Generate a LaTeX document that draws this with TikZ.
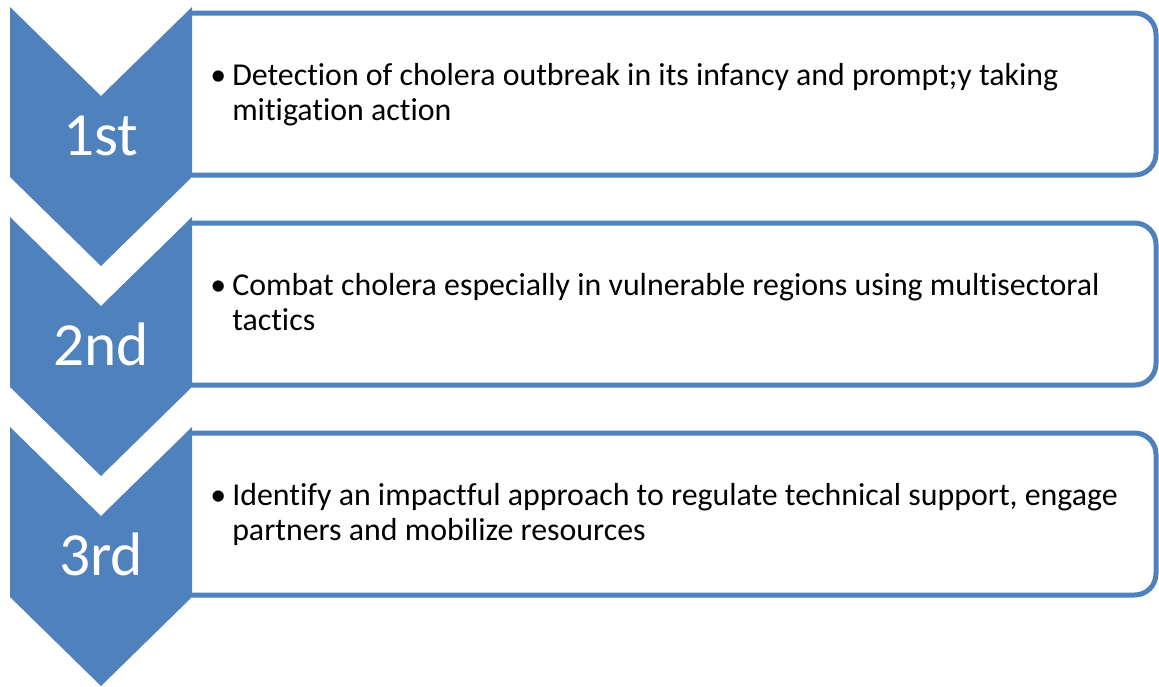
\documentclass[tikz,border=0pt]{standalone}
\usepackage{fontspec}
\setmainfont{Carlito}[Ligatures=NoCommon]
\definecolor{obl}{HTML}{4F81BD}
\begin{document}
\begin{tikzpicture}[x=0.75pt,y=-0.75pt,
  chev/.style={fill=obl,draw=none},
  itembox/.style={draw=obl,line width=3.75pt,rounded corners=16pt},
  num/.style={text=white,font=\fontsize{46}{50}\selectfont,anchor=base,inner sep=0pt},
  item/.style={font=\fontsize{23.9}{28}\selectfont,anchor=base west,inner sep=0pt}]
\useasboundingbox (0,0) rectangle (1159,686);
% boxes
\draw[itembox] (192,13) -- (1156,13) -- (1156,175) -- (192,175);
\draw[itembox] (192,223) -- (1156,223) -- (1156,385) -- (192,385);
\draw[itembox] (192,433) -- (1156,433) -- (1156,595) -- (192,595);
% chevrons
\fill[chev] (10,7) -- (101,96) -- (192,7) -- (192,177) -- (101,266) -- (10,177) -- cycle;
\fill[chev] (10,217) -- (101,306) -- (192,217) -- (192,387) -- (101,476) -- (10,387) -- cycle;
\fill[chev] (10,427) -- (101,516) -- (192,427) -- (192,597) -- (101,686) -- (10,597) -- cycle;
% numbers
\node[num] (n1) at (101,155) {1st};
\node[num] (n2) at (101,365) {2nd};
\node[num] (n3) at (101,575) {3rd};
% texts
\node[item] (b1) at (210,85) {•};
\node[item] (t1a) at (232,85) {Detection of cholera outbreak in its infancy and prompt;y taking};
\node[item] (t1b) at (232,120) {mitigation action};
\node[item] (b2) at (210,295) {•};
\node[item] (t2a) at (232,295) {Combat cholera especially in vulnerable regions using multisectoral};
\node[item] (t2b) at (232,330) {tactics};
\node[item] (b3) at (210,505) {•};
\node[item] (t3a) at (232,505) {Identify an impactful approach to regulate technical support, engage};
\node[item] (t3b) at (232,540) {partners and mobilize resources};
\end{tikzpicture}
\end{document}
